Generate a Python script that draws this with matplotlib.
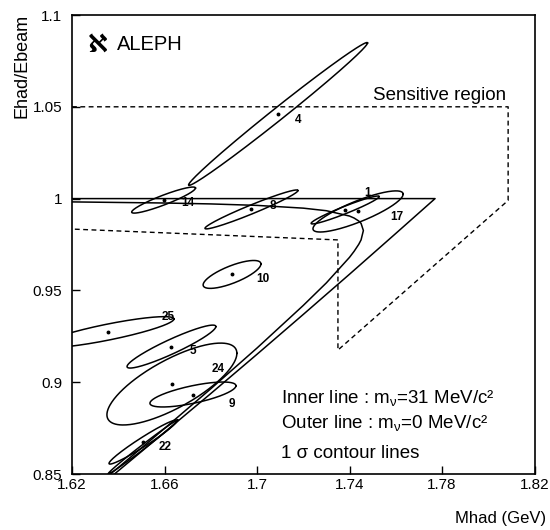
import numpy as np
import matplotlib
matplotlib.use("Agg")
import matplotlib.pyplot as plt

plt.rcParams.update({"font.family": ["Liberation Sans", "DejaVu Sans"],
                     "mathtext.fontset": "custom", "mathtext.rm": "Liberation Sans",
                     "mathtext.it": "Liberation Sans:italic", "mathtext.sf": "Liberation Sans"})

# tau -> 5 pi (nu) candidates: centre, 1 sigma errors, correlation
event_ids = ["4", "14", "8", "1", "17", "10", "25", "5", "24", "9", "22", ""]
mhad = [1.7091, 1.6596, 1.6976, 1.7381, 1.7437, 1.6892, 1.6356, 1.6630, 1.6632, 1.6723, 1.6507, 1.6507]
ehad = [1.0461, 0.9992, 0.9941, 0.9938, 0.9930, 0.9587, 0.9273, 0.9194, 0.8990, 0.8933, 0.8674, 0.8647]
sig_m = [0.0387, 0.0138, 0.0201, 0.0147, 0.0195, 0.0125, 0.0285, 0.0192, 0.0281, 0.0186, 0.0147, 0.0151]
sig_e = [0.0389, 0.0071, 0.0106, 0.0076, 0.0112, 0.0076, 0.0084, 0.0117, 0.0223, 0.0068, 0.0120, 0.0147]
rho = [0.994, 0.92, 0.97, 0.96, 0.84, 0.75, 0.85, 0.93, 0.75, 0.70, 0.97, 0.995]
label_xy = [(1.7177, 1.0430), (1.6702, 0.9976), (1.7069, 0.9962), (1.7476, 1.0031),
            (1.7605, 0.9900), (1.7026, 0.9562), (1.6615, 0.9355), (1.6723, 0.9170),
            (1.6831, 0.9072), (1.6892, 0.8881), (1.6602, 0.8647), None]

# kinematic limits, outer: m_nu = 0, inner: m_nu = 31 MeV
outer_m = [1.62, 1.777, 1.76, 1.74, 1.72, 1.70, 1.68, 1.66, 1.64, 1.62]
outer_e = [1.0, 1.0, 0.981, 0.9588, 0.9369, 0.9152, 0.8938, 0.8727, 0.8517, 0.8311]
inner_m = [1.62, 1.64, 1.66, 1.68, 1.70, 1.72, 1.73, 1.74, 1.742, 1.744, 1.745, 1.746,
           1.745, 1.744, 1.742, 1.74, 1.73, 1.72, 1.70, 1.68, 1.66, 1.64, 1.62]
inner_e = [0.9982, 0.9979, 0.9976, 0.9971, 0.9963, 0.9948, 0.9934, 0.9905, 0.9894, 0.9878, 0.9865, 0.9826,
           0.9775, 0.9751, 0.9713, 0.9680, 0.9541, 0.9418, 0.9186, 0.8964, 0.8748, 0.8535, 0.8326]

# sensitive region outline
sens_m = [1.62, 1.8086, 1.8086, 1.735, 1.735, 1.62]
sens_e = [1.05, 1.05, 0.999, 0.9175, 0.9775, 0.9834]

fig = plt.figure(figsize=(5.5, 5.3), dpi=100)
ax = fig.add_axes([72 / 550, 56 / 530, 462.5 / 550, 459 / 530])
ax.set_xlim(1.62, 1.82)
ax.set_ylim(0.85, 1.1)

ax.plot(sens_m, sens_e, c="k", lw=1.0, ls=(0, (3.5, 2.5)))
ax.plot(outer_m, outer_e, c="k", lw=1.1)
ax.plot(inner_m, inner_e, c="k", lw=1.1)

t = np.linspace(0, 2 * np.pi, 300)
for i in range(len(event_ids)):
    sx, sy, r = sig_m[i], sig_e[i], rho[i]
    L = np.linalg.cholesky(np.array([[sx * sx, r * sx * sy], [r * sx * sy, sy * sy]]))
    xy = L @ np.vstack([np.cos(t), np.sin(t)])
    ax.plot(mhad[i] + xy[0], ehad[i] + xy[1], c="k", lw=1.1)
    if event_ids[i]:
        ax.plot(mhad[i], ehad[i], "o", c="k", ms=1.8)
        lx, ly = label_xy[i]
        ax.text(lx, ly, event_ids[i], fontsize=8.5, fontweight="bold", ha="center", va="center")

ax.text(1.627, 1.084, "\u2135", fontsize=18, fontweight="bold", ha="left", va="center",
        family=["DejaVu Sans"])
ax.text(1.6395, 1.084, "ALEPH", fontsize=14.5, ha="left", va="center")
ax.text(1.750, 1.0564, "Sensitive region", fontsize=13.5, ha="left", va="center")
ax.text(1.7102, 0.8914, r"Inner line : $\mathregular{m_\nu}$=31 MeV/c²", fontsize=13.5, ha="left", va="center")
ax.text(1.7102, 0.8778, r"Outer line : $\mathregular{m_\nu}$=0 MeV/c²", fontsize=13.5, ha="left", va="center")
ax.text(1.7102, 0.8614, "1 σ contour lines", fontsize=13.5, ha="left", va="center")

ax.set_xticks([1.62, 1.66, 1.70, 1.74, 1.78, 1.82])
ax.set_xticklabels(["1.62", "1.66", "1.7", "1.74", "1.78", "1.82"])
ax.set_yticks([0.85, 0.9, 0.95, 1.0, 1.05, 1.1])
ax.set_yticklabels(["0.85", "0.9", "0.95", "1", "1.05", "1.1"])
ax.tick_params(direction="in", length=6, width=1, labelsize=11)
ax.tick_params(axis="x", pad=3)
ax.tick_params(axis="y", pad=7)
for s in ax.spines.values():
    s.set_linewidth(1.2)

ax.set_xlabel("Mhad (GeV)", fontsize=12, va="center")
ax.xaxis.set_label_coords(0.927, -0.096)
ax.set_ylabel("Ehad/Ebeam", fontsize=13, va="center")
ax.yaxis.set_label_coords(-0.108, 0.888)

fig.savefig("out.png", dpi=100)
